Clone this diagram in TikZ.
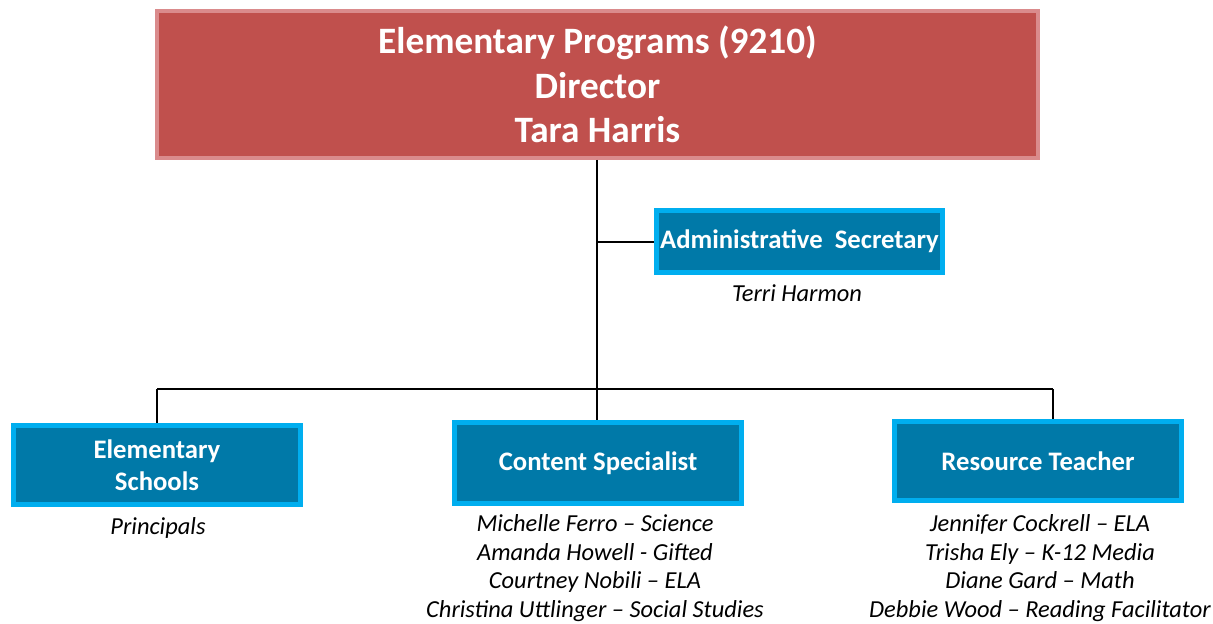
\documentclass[tikz,border=0pt]{standalone}
\usepackage{fontspec}
\setmainfont{Carlito}

\definecolor{headred}{HTML}{C0504D}
\definecolor{headrim}{HTML}{DA8B8C}
\definecolor{unitblue}{HTML}{0079A8}
\definecolor{unitrim}{HTML}{00AEEF}

\tikzset{
  head/.style={draw=headrim, fill=headred, line width=0.08cm, minimum width=17.62cm,
    minimum height=2.94cm, inner sep=0pt, text=white, align=center,
    font=\fontsize{21.2}{25.2}\selectfont\bfseries},
  unit/.style={draw=unitrim, fill=unitblue, line width=0.1cm, minimum width=5.74cm,
    inner sep=0pt, text=white, align=center, font=\fontsize{15.2}{18}\selectfont\bfseries},
  staff/.style={inner sep=0pt, align=center, font=\fontsize{13.9}{16.4}\selectfont\itshape},
  link/.style={line width=0.04cm}
}

\begin{document}
\begin{tikzpicture}[x=0.02cm, y=-0.02cm]
\useasboundingbox (0,0) rectangle (1213,623);
% director
\node[head] (dir) at (597.5,84.5) {Elementary Programs (9210)\\Director\\Tara Harris};
% secretary
\node[unit, minimum height=1.24cm] (sec) at (799.5,241.5) {Administrative\ \ Secretary};
\node[staff, anchor=base] (secname) at (797,301) {Terri Harmon};
% units
\node[unit, minimum height=1.58cm] (elem) at (157,465) {Elementary\\Schools};
\node[unit, minimum height=1.62cm] (cont) at (598,463) {Content Specialist};
\node[unit, minimum height=1.58cm] (res) at (1038,461) {Resource Teacher};
\node[staff, anchor=north] (elemnames) at (158,517) {Principals};
\node[staff, anchor=north] (contnames) at (595,514)
  {Michelle Ferro – Science\\Amanda Howell - Gifted\\Courtney Nobili – ELA\\Christina Uttlinger – Social Studies};
\node[staff, anchor=north] (resnames) at (1040,514)
  {Jennifer Cockrell – ELA\\Trisha Ely – K-12 Media\\Diane Gard – Math\\Debbie Wood – Reading Facilitator};
% lines
\coordinate (bus) at (597,389);
\coordinate (bl) at (157,389);
\coordinate (br) at (1053,389);
\draw[link] (dir.south -| bus) -- (bus);
\draw[link] (sec.west -| bus) -- (sec.west);
\draw[link] (bl) -- (br);
\draw[link] (bl) -- (elem.north -| bl);
\draw[link] (bus) -- (cont.north -| bus);
\draw[link] (br) -- (res.north -| br);
\end{tikzpicture}
\end{document}
